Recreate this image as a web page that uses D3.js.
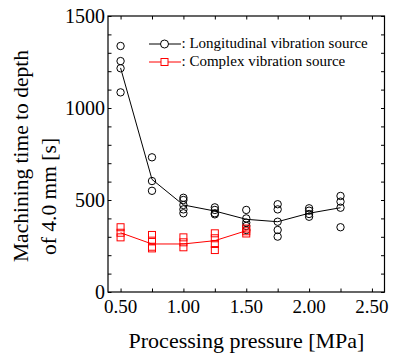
<!DOCTYPE html>
<html><head><meta charset="utf-8">
<script src="https://cdn.jsdelivr.net/npm/d3@7"></script>
</head><body style="margin:0;background:#fff"><svg id="c" width="393" height="353" style="display:block;background:#fff"></svg>
<script>
// Data
const pressures = [0.5, 0.75, 1.0, 1.25, 1.5, 1.75, 2.0, 2.25];
const longPoints = [
  [1337, 1255, 1216, 1085],
  [732, 603, 550],
  [512, 500, 473, 449, 428],
  [460, 446, 428, 422],
  [446, 400, 377, 359, 337],
  [477, 449, 382, 337, 301],
  [455, 442, 424, 409],
  [522, 491, 458, 352]
];
const longMean = [1218, 612, 473, 440, 395, 382, 428, 458];
const complexPressures = [0.5, 0.75, 1.0, 1.25, 1.5];
const complexPoints = [
  [352, 322, 297],
  [310, 279, 246, 237],
  [297, 270, 243],
  [319, 292, 261, 228],
  [345, 330, 318]
];
const complexMean = [322, 261, 261, 279, 333];
const xTicks = [0.5, 1.0, 1.5, 2.0, 2.5];
const xMinor = [0.5, 0.75, 1.0, 1.25, 1.5, 1.75, 2.0, 2.25, 2.5];
const yTicks = [0, 500, 1000, 1500];
const yMinor = d3.range(0, 1501, 100);
const legendLabels = [": Longitudinal vibration source", ": Complex vibration source"];

const FONT = "Liberation Serif";
const svg = d3.select("#c");
const L = 108, R = 384.5, T = 16, B = 292;
const x = d3.scaleLinear().domain([0.4, 2.6]).range([L, R]);
const y = d3.scaleLinear().domain([0, 1500]).range([B, T]);
const red = "#f00";

// frame
svg.append("rect").attr("x", L).attr("y", T).attr("width", R - L).attr("height", B - T)
  .attr("fill", "none").attr("stroke", "#000").attr("stroke-width", 1.2);

// axes via d3 with inward ticks
const tk = 3.5;
const noDomain = g => g.select(".domain").remove();
svg.append("g").attr("transform", `translate(0,${B})`)
  .call(d3.axisBottom(x).tickValues(xMinor).tickSizeInner(-tk).tickSizeOuter(0).tickFormat(""))
  .call(noDomain);
svg.append("g").attr("transform", `translate(0,${T})`)
  .call(d3.axisTop(x).tickValues(xMinor).tickSizeInner(-tk).tickSizeOuter(0).tickFormat(""))
  .call(noDomain);
svg.append("g").attr("transform", `translate(${L},0)`)
  .call(d3.axisLeft(y).tickValues(yMinor).tickSizeInner(-tk).tickSizeOuter(0).tickFormat(""))
  .call(noDomain);
svg.append("g").attr("transform", `translate(${R},0)`)
  .call(d3.axisRight(y).tickValues(yMinor).tickSizeInner(-tk).tickSizeOuter(0).tickFormat(""))
  .call(noDomain);

// tick labels
svg.append("g").selectAll("text").data(xTicks).join("text")
  .attr("font-family", FONT)
  .attr("x", d => x(d)).attr("y", 313).attr("text-anchor", "middle")
  .attr("font-size", 19).text(d => d.toFixed(2));
svg.append("g").selectAll("text").data(yTicks).join("text")
  .attr("font-family", FONT)
  .attr("x", 105).attr("y", d => y(d)).attr("dy", "0.35em").attr("text-anchor", "end")
  .attr("font-size", 20).text(d => d);

// axis titles
svg.append("text").attr("font-family", FONT).attr("x", 246.5).attr("y", 347.5).attr("text-anchor", "middle")
  .attr("font-size", 22).text("Processing pressure [MPa]");
svg.append("text").attr("font-family", FONT).attr("transform", "translate(27.5,262) rotate(-90)")
  .attr("font-size", 21.5).text("Machining time to depth");
svg.append("text").attr("font-family", FONT).attr("transform", "translate(56,255) rotate(-90)")
  .attr("font-size", 21.5).text("of 4.0 mm [s]");

// lines
const line = d3.line().x(d => x(d[0])).y(d => y(d[1]));
svg.append("path").datum(pressures.map((p, i) => [p, longMean[i]]))
  .attr("d", line).attr("fill", "none").attr("stroke", "#000").attr("stroke-width", 1);
svg.append("path").datum(complexPressures.map((p, i) => [p, complexMean[i]]))
  .attr("d", line).attr("fill", "none").attr("stroke", red).attr("stroke-width", 1);

// points
const lp = pressures.flatMap((p, i) => longPoints[i].map(v => [p, v]));
svg.append("g").selectAll("circle").data(lp).join("circle")
  .attr("cx", d => x(d[0])).attr("cy", d => y(d[1])).attr("r", 3.7)
  .attr("fill", "none").attr("stroke", "#000").attr("stroke-width", 1);
const cp = complexPressures.flatMap((p, i) => complexPoints[i].map(v => [p, v]));
const s = 7;
svg.append("g").selectAll("rect").data(cp).join("rect")
  .attr("x", d => x(d[0]) - s / 2).attr("y", d => y(d[1]) - s / 2).attr("width", s).attr("height", s)
  .attr("fill", "none").attr("stroke", red).attr("stroke-width", 1);

// legend
const lg = svg.append("g");
const ly = [44, 62];
lg.append("line").attr("x1", 149).attr("x2", 181).attr("y1", ly[0]).attr("y2", ly[0]).attr("stroke", "#000");
lg.append("circle").attr("cx", 164.5).attr("cy", ly[0]).attr("r", 4).attr("fill", "#fff").attr("stroke", "#000");
lg.append("line").attr("x1", 149).attr("x2", 181).attr("y1", ly[1]).attr("y2", ly[1]).attr("stroke", red);
lg.append("rect").attr("x", 164.5 - 3.5).attr("y", ly[1] - 3.5).attr("width", 7).attr("height", 7).attr("fill", "#fff").attr("stroke", red);
lg.selectAll("text").data(legendLabels).join("text")
  .attr("font-family", FONT)
  .attr("x", 181.5).attr("y", (d, i) => ly[i] + 4).attr("font-size", 15).text(d => d);
</script></body></html>
